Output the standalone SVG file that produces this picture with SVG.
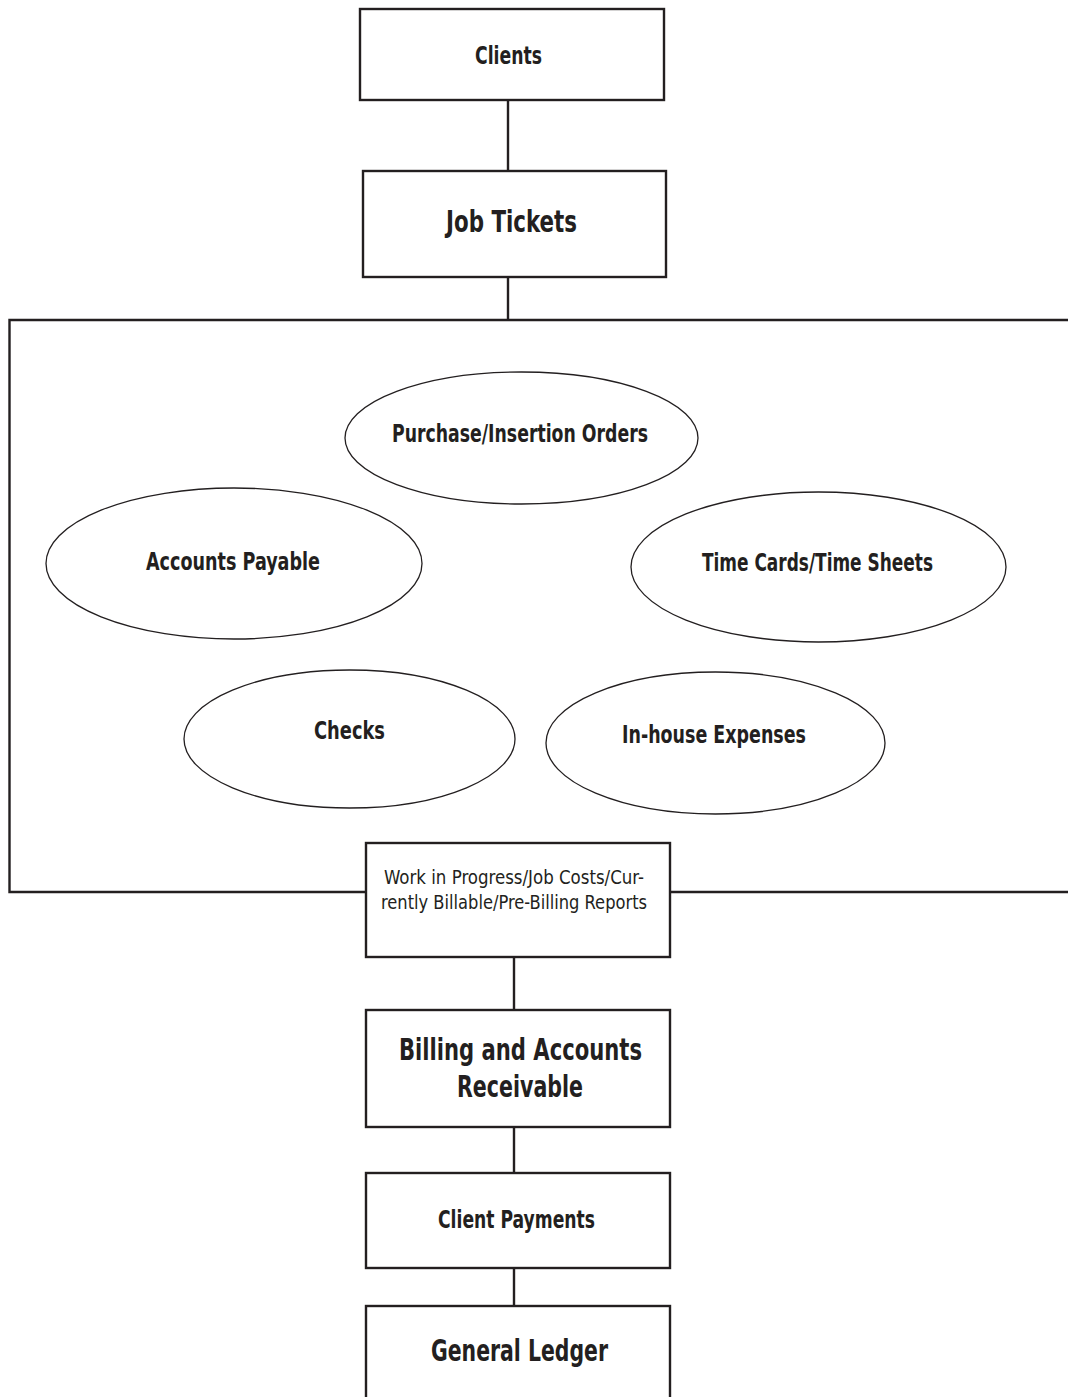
<svg xmlns="http://www.w3.org/2000/svg" width="1068" height="1397" viewBox="0 0 1068 1397">
<style>
.box{fill:#fff;stroke:#231f20;stroke-width:2.4}
.ell{fill:#fff;stroke:#231f20;stroke-width:1.3}
.con{stroke:#231f20;stroke-width:2.4;fill:none}
.t{font-family:"Liberation Sans Narrow","DejaVu Sans Condensed","Arial Narrow","Liberation Sans",sans-serif;font-weight:bold;fill:#231f20;text-anchor:middle}
.s{font-size:25px}
.l{font-size:30px}
.r{font-family:"Liberation Sans Narrow","DejaVu Sans Condensed","Arial Narrow","Liberation Sans",sans-serif;font-weight:normal;font-size:20px;fill:#231f20;text-anchor:middle}
</style>
<rect width="1068" height="1397" fill="#fff"/>
<g id="connectors">
<line class="con" x1="508" y1="100" x2="508" y2="171"/>
<line class="con" x1="508" y1="277" x2="508" y2="320"/>
<line class="con" x1="514" y1="957" x2="514" y2="1010"/>
<line class="con" x1="514" y1="1127" x2="514" y2="1173"/>
<line class="con" x1="514" y1="1268" x2="514" y2="1306"/>
</g>
<g id="container">
<path class="con" d="M1070 320 H9.5 V892 H1070"/>
</g>
<g id="clients">
<rect class="box" x="360" y="9" width="304" height="91"/>
<text class="t s" x="508.5" y="64" textLength="67" lengthAdjust="spacingAndGlyphs">Clients</text>
</g>
<g id="job-tickets">
<rect class="box" x="363" y="171" width="303" height="106"/>
<text class="t l" x="511.5" y="232" textLength="131" lengthAdjust="spacingAndGlyphs">Job Tickets</text>
</g>
<g id="purchase-orders">
<ellipse class="ell" cx="521.5" cy="438" rx="176.5" ry="66"/>
<text class="t s" x="520" y="442" textLength="256" lengthAdjust="spacingAndGlyphs">Purchase/Insertion Orders</text>
</g>
<g id="accounts-payable">
<ellipse class="ell" cx="234" cy="563.5" rx="188" ry="75.5"/>
<text class="t s" x="233" y="570" textLength="174" lengthAdjust="spacingAndGlyphs">Accounts Payable</text>
</g>
<g id="time-cards">
<ellipse class="ell" cx="818.5" cy="567" rx="187.5" ry="75"/>
<text class="t s" x="817.5" y="571" textLength="231" lengthAdjust="spacingAndGlyphs">Time Cards/Time Sheets</text>
</g>
<g id="checks">
<ellipse class="ell" cx="349.5" cy="739" rx="165.5" ry="69"/>
<text class="t s" x="349.5" y="739" textLength="71" lengthAdjust="spacingAndGlyphs">Checks</text>
</g>
<g id="in-house-expenses">
<ellipse class="ell" cx="715.5" cy="743" rx="169.5" ry="71"/>
<text class="t s" x="714" y="743" textLength="184" lengthAdjust="spacingAndGlyphs">In-house Expenses</text>
</g>
<g id="wip">
<rect class="box" x="366" y="843" width="304" height="114"/>
<text class="r" x="514" y="884" textLength="260" lengthAdjust="spacingAndGlyphs">Work in Progress/Job Costs/Cur-</text>
<text class="r" x="514" y="909" textLength="266" lengthAdjust="spacingAndGlyphs">rently Billable/Pre-Billing Reports</text>
</g>
<g id="billing">
<rect class="box" x="366" y="1010" width="304" height="117"/>
<text class="t l" x="520.5" y="1060" textLength="243" lengthAdjust="spacingAndGlyphs">Billing and Accounts</text>
<text class="t l" x="520" y="1097" textLength="126" lengthAdjust="spacingAndGlyphs">Receivable</text>
</g>
<g id="client-payments">
<rect class="box" x="366" y="1173" width="304" height="95"/>
<text class="t s" x="516.5" y="1228" textLength="157" lengthAdjust="spacingAndGlyphs">Client Payments</text>
</g>
<g id="general-ledger">
<rect class="box" x="366" y="1306" width="304" height="110"/>
<text class="t l" x="519.5" y="1361" textLength="177" lengthAdjust="spacingAndGlyphs">General Ledger</text>
</g>
</svg>
